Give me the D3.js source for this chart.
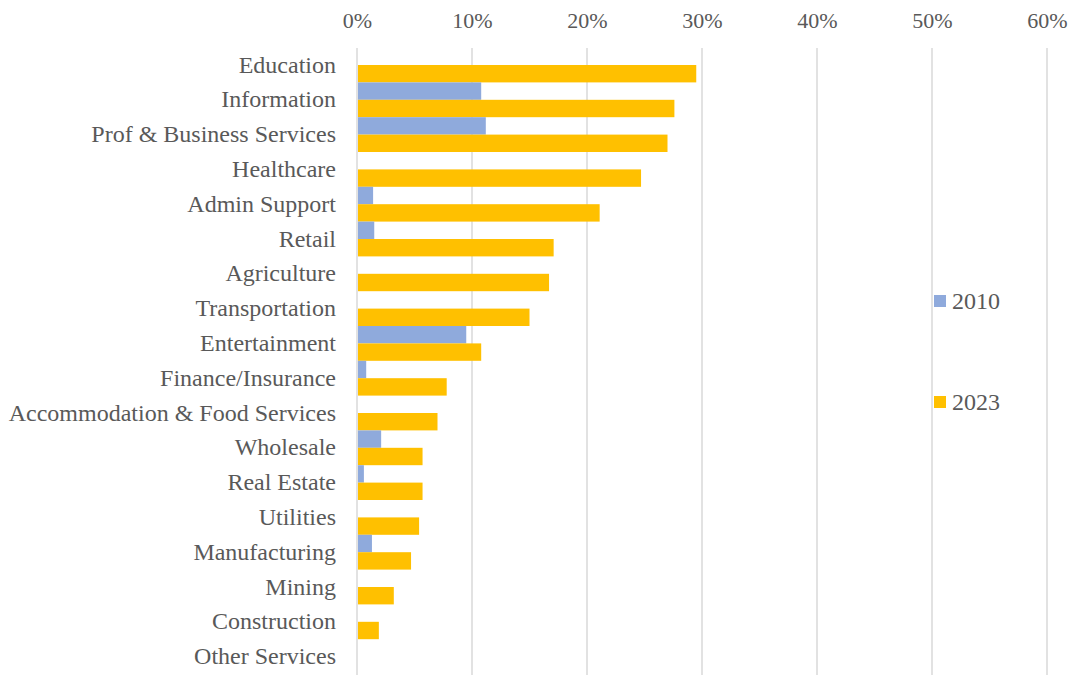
<!DOCTYPE html>
<html lang="en">
<head>
  <meta charset="UTF-8">
  <title>Industry share, 2010 vs 2023</title>
  <script src="https://d3js.org/d3.v7.min.js"></script>
  <style>
    body { margin: 0; background: #fff; }
  </style>
</head>
<body>
  <script>
    const width = 1076, height = 675;
    const font = "'Liberation Serif', 'Times New Roman', serif";

    const categories = ['Education', 'Information', 'Prof & Business Services', 'Healthcare',
      'Admin Support', 'Retail', 'Agriculture', 'Transportation', 'Entertainment',
      'Finance/Insurance', 'Accommodation & Food Services', 'Wholesale', 'Real Estate',
      'Utilities', 'Manufacturing', 'Mining', 'Construction', 'Other Services'];
    const years = ['2010', '2023'];
    const values2010 = [0, 10.8, 11.2, 0, 1.4, 1.5, 0, 0, 9.5, 0.8, 0, 2.1, 0.6, 0, 1.3, 0, 0, 0];
    const values2023 = [29.5, 27.6, 27.0, 24.7, 21.1, 17.1, 16.7, 15.0, 10.8, 7.8, 7.0, 5.7, 5.7, 5.4, 4.7, 3.2, 1.9, 0];
    const tickValues = [0, 10, 20, 30, 40, 50, 60];
    const colors = { '2010': '#8faadc', '2023': '#ffc000' };

    const rows = categories.map((c, i) => ({ name: c, '2010': values2010[i], '2023': values2023[i] }));

    const svg = d3.select('body')
      .append('svg')
      .attr('width', width)
      .attr('height', height);

    const x = d3.scaleLinear().domain([0, 60]).range([357, 1047]);
    const y = d3.scaleBand().domain(categories).range([47.6, 674]).padding(0);
    const ySub = d3.scaleBand().domain(years).range([0, y.bandwidth()]).padding(0);

    // gridlines
    svg.append('g')
      .selectAll('line')
      .data(tickValues)
      .join('line')
      .attr('x1', d => x(d)).attr('x2', d => x(d))
      .attr('y1', 48).attr('y2', height)
      .attr('stroke', '#d9d9d9')
      .attr('stroke-width', 1.5);

    // top axis, labels only
    const xAxis = d3.axisTop(x)
      .tickValues(tickValues)
      .tickSize(0)
      .tickPadding(0)
      .tickFormat(d => d + '%');
    const gx = svg.append('g')
      .attr('transform', 'translate(0, 28)')
      .call(xAxis);
    gx.select('.domain').remove();
    gx.selectAll('text')
      .style('font-family', font)
      .style('font-size', '22px')
      .style('fill', '#595959');

    // category labels
    const yAxis = d3.axisLeft(y).tickSize(0).tickPadding(21);
    const gy = svg.append('g')
      .attr('transform', 'translate(357, 0)')
      .call(yAxis);
    gy.select('.domain').remove();
    gy.selectAll('text')
      .style('font-family', font)
      .style('font-size', '24px')
      .style('fill', '#595959');

    // bars
    const groups = svg.append('g')
      .selectAll('g')
      .data(rows)
      .join('g')
      .attr('transform', d => `translate(0, ${y(d.name)})`);

    groups.selectAll('rect')
      .data(d => years.map(k => ({ key: k, value: d[k] })).filter(d => d.value > 0))
      .join('rect')
      .attr('x', x(0) + 1)
      .attr('y', d => ySub(d.key))
      .attr('width', d => x(d.value) - x(0) - 1)
      .attr('height', ySub.bandwidth())
      .attr('fill', d => colors[d.key]);

    // legend
    const legend = svg.append('g')
      .selectAll('g')
      .data(years)
      .join('g')
      .attr('transform', (d, i) => `translate(934, ${301 + i * 101})`);
    legend.append('rect')
      .attr('x', 0).attr('y', -6)
      .attr('width', 12).attr('height', 12)
      .attr('fill', d => colors[d]);
    legend.append('text')
      .attr('x', 18)
      .attr('dy', '0.35em')
      .style('font-family', font)
      .style('font-size', '24px')
      .style('fill', '#595959')
      .text(d => d);
  </script>
</body>
</html>
